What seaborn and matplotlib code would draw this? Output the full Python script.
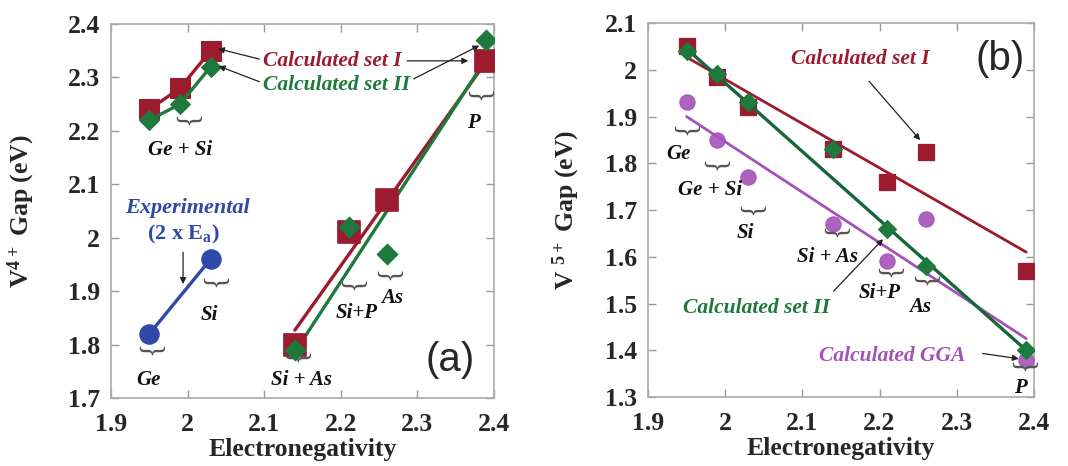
import numpy as np
import pandas as pd
import seaborn as sns
import matplotlib.pyplot as plt

# ---- data: panel (a), V4+ gap ----
a_en_left = [1.95, 1.99, 2.03]
a_set1_left = [2.24, 2.28, 2.35]
a_set2_left = [2.22, 2.25, 2.32]
a_en_right = [2.14, 2.21, 2.26, 2.39]
a_set1_right = [1.80, 2.01, 2.07, 2.33]
a_set2_right = [1.79, 2.02, 1.97, 2.37]
a_fit1_x = [2.14, 2.39]
a_fit1_y = [1.827, 2.33]
a_fit2_x = [2.145, 2.39]
a_fit2_y = [1.797, 2.335]
a_exp_x = [1.95, 2.03]
a_exp_y = [1.82, 1.96]

# ---- data: panel (b), V5+ gap ----
b_en = [1.95, 1.99, 2.03, 2.14, 2.21, 2.26, 2.39]
b_set1 = [2.05, 1.985, 1.92, 1.83, 1.76, 1.825, 1.57]
b_set2 = [2.04, 1.99, 1.93, 1.83, 1.66, 1.58, 1.40]
b_gga = [1.93, 1.85, 1.77, 1.67, 1.59, 1.68, 1.38]
b_fit1_y = [2.027, 1.61]
b_fit2_y = [2.045, 1.40]
b_fitg_y = [1.90, 1.425]
b_fit_x = [1.95, 2.39]

xticks = [1.9, 2.0, 2.1, 2.2, 2.3, 2.4]
xticklabels = ["1.9", "2", "2.1", "2.2", "2.3", "2.4"]
a_yticks = [1.7, 1.8, 1.9, 2.0, 2.1, 2.2, 2.3, 2.4]
a_yticklabels = ["1.7", "1.8", "1.9", "2", "2.1", "2.2", "2.3", "2.4"]
b_yticks = [1.3, 1.4, 1.5, 1.6, 1.7, 1.8, 1.9, 2.0, 2.1]
b_yticklabels = ["1.3", "1.4", "1.5", "1.6", "1.7", "1.8", "1.9", "2", "2.1"]

# composition labels (text, x, y) - brace sits just above the text
a_labels = [("Ge", 1.949, 1.734), ("Si", 2.028, 1.856), ("Ge + Si", 1.99, 2.165),
            ("Si + As", 2.149, 1.734), ("Si+P", 2.221, 1.859), ("As", 2.267, 1.887),
            ("P", 2.373, 2.215)]
a_braces = [(1.949, 1.786), (2.032, 1.914), (1.997, 2.217), (2.14, 1.773),
            (2.212, 1.908), (2.259, 1.927), (2.378, 2.264)]
b_labels = [("Ge", 1.939, 1.819), ("Ge + Si", 1.98, 1.742), ("Si", 2.026, 1.65),
            ("Si + As", 2.133, 1.599), ("Si+P", 2.2, 1.522), ("As", 2.252, 1.492),
            ("P", 2.383, 1.32)]
b_braces = [(1.946, 1.866), (1.985, 1.791), (2.031, 1.695), (2.14, 1.648),
            (2.21, 1.563), (2.257, 1.545), (2.384, 1.363)]

RED = "#9c1b2e"
GREEN = "#1d7a3c"
DGREEN = "#17663a"
BLUE = "#2f49a8"
PURPLE = "#a552b8"
SERIF = "Liberation Serif"

sns.set_style("ticks")
plt.rcParams["font.family"] = [SERIF, "DejaVu Serif"]
plt.rcParams["mathtext.default"] = "regular"

fig = plt.figure(figsize=(10.68, 4.66), dpi=100)
ax1 = fig.add_axes([0.104, 0.146, 0.3586, 0.8026])
ax2 = fig.add_axes([0.6067, 0.148, 0.3614, 0.8026])


def style_axis(ax, yticks, yticklabels, ylim, ylabel, ypad):
    ax.set_xlim(1.9, 2.4)
    ax.set_ylim(*ylim)
    ax.set_xticks(xticks)
    ax.set_xticklabels(xticklabels)
    ax.set_yticks(yticks)
    ax.set_yticklabels(yticklabels)
    ax.tick_params(direction="in", length=6, width=1, color="#999999",
                   top=True, right=True, labelsize=18.5)
    ax.tick_params(axis="x", pad=11)
    ax.tick_params(axis="y", pad=8)
    for lab in ax.get_xticklabels() + ax.get_yticklabels():
        lab.set_fontweight("bold")
    for sp in ax.spines.values():
        sp.set_color("#aaaaaa")
        sp.set_linewidth(1.2)
    ax.set_xlabel("Electronegativity", fontsize=18.5, fontweight="bold", labelpad=1)
    ax.set_ylabel(ylabel, fontsize=18.5, fontweight="bold", labelpad=ypad)


def braces(ax, labels, brace_pos):
    for txt, x, y in labels:
        ax.text(x, y, txt, fontsize=15, fontweight="bold", style="italic",
                ha="center", va="center", color="#111111")
    for x, y in brace_pos:
        ax.text(x, y, "}", fontsize=21, rotation=-90, ha="center", va="center",
                color="#555555")


# ---------- panel (a) ----------
sns.lineplot(x=a_en_left, y=a_set1_left, ax=ax1, color=RED, lw=2.4,
             marker="s", markersize=15, markeredgecolor=RED)
sns.lineplot(x=a_en_left, y=a_set2_left, ax=ax1, color=GREEN, lw=2.4,
             marker="D", markersize=10, markeredgecolor=GREEN)
sns.lineplot(x=a_fit1_x, y=a_fit1_y, ax=ax1, color=RED, lw=2.4)
sns.lineplot(x=a_fit2_x, y=a_fit2_y, ax=ax1, color=GREEN, lw=2.4)
sns.scatterplot(x=a_en_right, y=a_set1_right, ax=ax1, color=RED, marker="s",
                s=240, edgecolor=RED, zorder=3)
sns.scatterplot(x=a_en_right, y=a_set2_right, ax=ax1, color=GREEN, marker="D",
                s=110, edgecolor=GREEN, zorder=4)
sns.lineplot(x=a_exp_x, y=a_exp_y, ax=ax1, color=BLUE, lw=2.4,
             marker="o", markersize=14, markeredgecolor=BLUE)

style_axis(ax1, a_yticks, a_yticklabels, (1.7, 2.4), "V$^{4+}$ Gap (eV)", 22)
braces(ax1, a_labels, a_braces)

ax1.text(2.098, 2.331, "Calculated set I", color=RED, fontsize=15.5,
         fontweight="bold", style="italic", ha="left", va="center")
ax1.text(2.098, 2.286, "Calculated set II", color=GREEN, fontsize=15.5,
         fontweight="bold", style="italic", ha="left", va="center")
arr = dict(arrowstyle="-|>", color="#222222", lw=0.9, mutation_scale=9)
ax1.annotate("", xy=(2.036, 2.355), xytext=(2.097, 2.333), arrowprops=arr)
ax1.annotate("", xy=(2.037, 2.323), xytext=(2.097, 2.29), arrowprops=arr)
ax1.annotate("", xy=(2.37, 2.331), xytext=(2.283, 2.331), arrowprops=arr)
ax1.annotate("", xy=(2.384, 2.362), xytext=(2.292, 2.295), arrowprops=arr)

ax1.text(2.0, 2.056, "Experimental", color=BLUE, fontsize=16,
         fontweight="bold", style="italic", ha="center", va="center")
ax1.text(1.994, 2.006, "(2 x E$_a$)", color=BLUE, fontsize=16,
         fontweight="bold", ha="center", va="center")
ax1.annotate("", xy=(1.994, 1.908), xytext=(1.994, 1.978), arrowprops=arr)
ax1.text(2.343, 1.771, "(a)", fontsize=29, family="Liberation Sans",
         ha="center", va="center")

# ---------- panel (b) ----------
sns.lineplot(x=b_fit_x, y=b_fit1_y, ax=ax2, color=RED, lw=2.0)
sns.lineplot(x=b_fit_x, y=b_fitg_y, ax=ax2, color=PURPLE, lw=2.0)
sns.scatterplot(x=b_en, y=b_set1, ax=ax2, color=RED, marker="s", s=130,
                edgecolor=RED, zorder=3)
sns.scatterplot(x=b_en, y=b_gga, ax=ax2, color=PURPLE, marker="o", s=120,
                edgecolor=PURPLE, alpha=0.9, zorder=3)
sns.lineplot(x=b_fit_x, y=b_fit2_y, ax=ax2, color=DGREEN, lw=2.4, zorder=4)
sns.scatterplot(x=b_en, y=b_set2, ax=ax2, color=GREEN, marker="D", s=85,
                edgecolor=GREEN, zorder=5)

style_axis(ax2, b_yticks, b_yticklabels, (1.3, 2.1), "V $^{5+}$ Gap (eV)", 16)
braces(ax2, b_labels, b_braces)

ax2.text(2.175, 2.024, "Calculated set I", color=RED, fontsize=15.5,
         fontweight="bold", style="italic", ha="center", va="center")
ax2.annotate("", xy=(2.255, 1.845), xytext=(2.184, 1.98), arrowprops=arr)
ax2.text(2.041, 1.49, "Calculated set II", color=GREEN, fontsize=15.5,
         fontweight="bold", style="italic", ha="center", va="center")
ax2.annotate("", xy=(2.207, 1.642), xytext=(2.138, 1.522), arrowprops=arr)
ax2.text(2.216, 1.387, "Calculated GGA", color=PURPLE, fontsize=15.5,
         fontweight="bold", style="italic", ha="center", va="center")
ax2.annotate("", xy=(2.384, 1.381), xytext=(2.33, 1.394), arrowprops=arr)
ax2.text(2.356, 2.024, "(b)", fontsize=29, family="Liberation Sans",
         ha="center", va="center")

fig.savefig("out.png", dpi=100)
